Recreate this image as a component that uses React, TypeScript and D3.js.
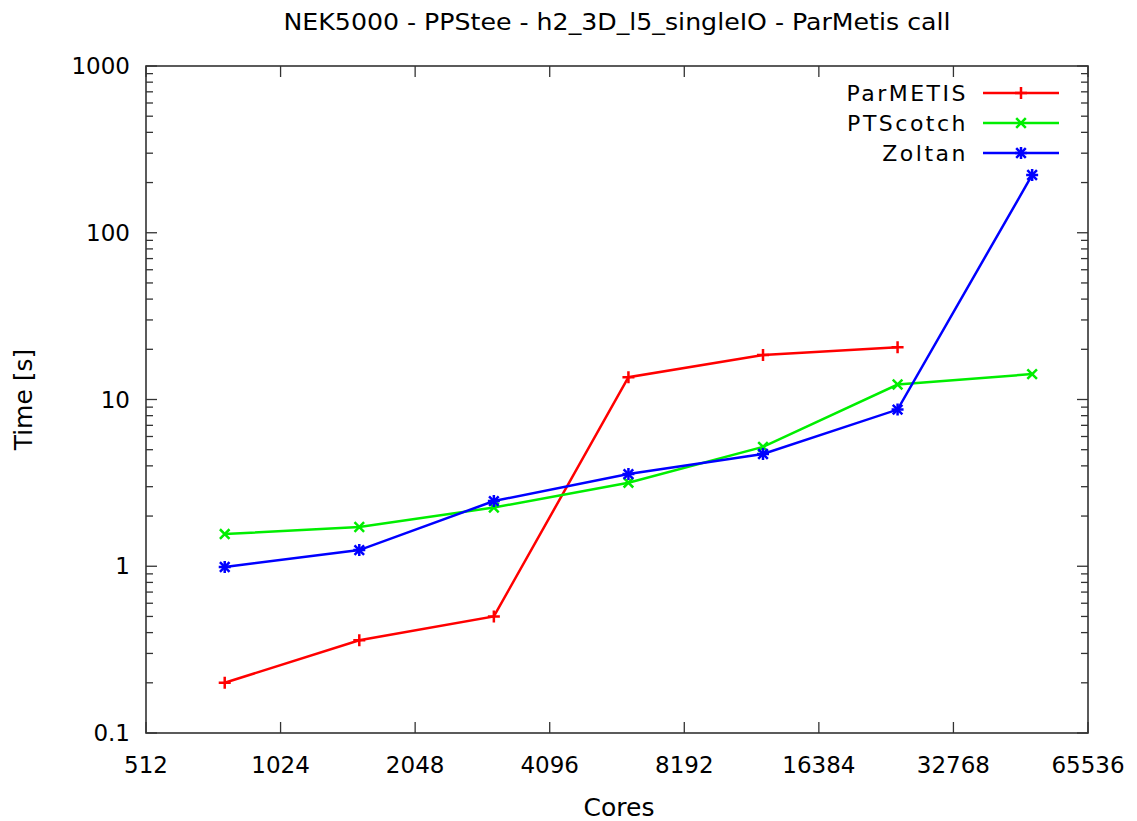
import React from "react";
import * as d3 from "d3";

const cores = [768, 1536, 3072, 6144, 12288, 24576, 49152];
const parmetis = [0.2, 0.36, 0.5, 13.6, 18.5, 20.6];
const ptscotch = [1.56, 1.72, 2.25, 3.17, 5.2, 12.3, 14.2];
const zoltan = [0.99, 1.25, 2.46, 3.57, 4.71, 8.7, 222];
const xTicks = [512, 1024, 2048, 4096, 8192, 16384, 32768, 65536];
const yTicks = [0.1, 1, 10, 100, 1000];
const yTickLabels = ["0.1", "1", "10", "100", "1000"];

const series = [
  { name: "ParMETIS", color: "#ff0000", values: parmetis, marker: "plus" },
  { name: "PTScotch", color: "#00ee00", values: ptscotch, marker: "cross" },
  { name: "Zoltan", color: "#0000ff", values: zoltan, marker: "star" },
];

const W = 1137, H = 821;
const L = 146, R = 1088, T = 66, B = 733;

function Marker({ x, y, type, color }: { x: number; y: number; type: string; color: string }) {
  const s = 6;
  const plus = <path d={`M${x - s},${y}H${x + s}M${x},${y - s}V${y + s}`} />;
  const cross = <path d={`M${x - s * 0.8},${y - s * 0.8}L${x + s * 0.8},${y + s * 0.8}M${x - s * 0.8},${y + s * 0.8}L${x + s * 0.8},${y - s * 0.8}`} />;
  return (
    <g stroke={color} strokeWidth={2.5} fill="none">
      {(type === "plus" || type === "star") && plus}
      {(type === "cross" || type === "star") && cross}
    </g>
  );
}

export default function App() {
  const x = d3.scaleLog().base(2).domain([512, 65536]).range([L, R]);
  const y = d3.scaleLog().domain([0.1, 1000]).range([B, T]);
  const line = d3.line<[number, number]>().x((d) => x(d[0])).y((d) => y(d[1]));
  const minor: number[] = [];
  for (let e = -1; e < 3; e++) for (let m = 2; m <= 9; m++) minor.push(m * Math.pow(10, e));
  const font = "DejaVu Sans, Verdana, sans-serif";
  return (
    <svg width={W} height={H} style={{ position: "absolute", left: 0, top: 0, background: "#fff" }}>
      <text x={617} y={30} textAnchor="middle" fontFamily="DejaVu Sans Condensed, DejaVu Sans, sans-serif" fontSize={23} textLength={667} lengthAdjust="spacingAndGlyphs">
        NEK5000 - PPStee - h2_3D_l5_singleIO - ParMetis call
      </text>
      <g stroke="#333" strokeWidth={1.3}>
        {xTicks.map((t) => (
          <g key={"x" + t}>
            <line x1={x(t)} x2={x(t)} y1={B} y2={B - 11} />
            <line x1={x(t)} x2={x(t)} y1={T} y2={T + 11} />
          </g>
        ))}
        {yTicks.map((t) => (
          <g key={"y" + t}>
            <line x1={L} x2={L + 11} y1={y(t)} y2={y(t)} />
            <line x1={R} x2={R - 11} y1={y(t)} y2={y(t)} />
          </g>
        ))}
        {minor.map((t) => (
          <g key={"m" + t}>
            <line x1={L} x2={L + 7} y1={y(t)} y2={y(t)} />
            <line x1={R} x2={R - 7} y1={y(t)} y2={y(t)} />
          </g>
        ))}
      </g>
      <rect x={L} y={T} width={R - L} height={B - T} fill="none" stroke="#333" strokeWidth={1.6} />
      <g fontFamily={font} fill="#000">
        {xTicks.map((t) => (
          <text key={"xl" + t} x={x(t)} y={773} textAnchor="middle" fontSize={23}>{t}</text>
        ))}
        {yTicks.map((t, i) => (
          <text key={"yl" + t} x={130} y={y(t) + 8} textAnchor="end" fontSize={23}>{yTickLabels[i]}</text>
        ))}
        <text x={619} y={816} textAnchor="middle" fontSize={25}>Cores</text>
        <text transform={`translate(32,${(T + B) / 2}) rotate(-90)`} textAnchor="middle" fontSize={25}>Time [s]</text>
      </g>
      {series.map((s) => {
        const pts: [number, number][] = s.values.map((v, i) => [cores[i], v]);
        return (
          <g key={s.name}>
            <path d={line(pts) || ""} fill="none" stroke={s.color} strokeWidth={2.5} />
            {pts.map((p, i) => (
              <Marker key={i} x={x(p[0])} y={y(p[1])} type={s.marker} color={s.color} />
            ))}
          </g>
        );
      })}
      {series.map((s, i) => {
        const ly = 93 + i * 30;
        return (
          <g key={"lg" + s.name}>
            <text x={968} y={ly + 8} textAnchor="end" fontFamily={font} fontSize={22} letterSpacing={2.5}>{s.name}</text>
            <line x1={983} x2={1059} y1={ly} y2={ly} stroke={s.color} strokeWidth={2.5} />
            <Marker x={1021} y={ly} type={s.marker} color={s.color} />
          </g>
        );
      })}
    </svg>
  );
}
